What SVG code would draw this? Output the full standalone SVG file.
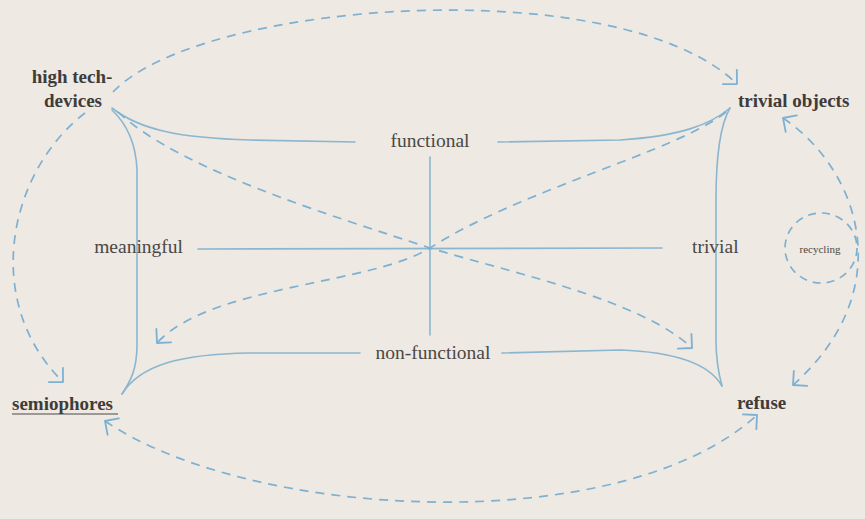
<svg xmlns="http://www.w3.org/2000/svg" width="865" height="519" viewBox="0 0 865 519">
<style>
.bg{fill:#eee9e2}
.lbl{font-family:"Liberation Serif","Times New Roman",serif;fill:#4a4845}
.node{font-size:19px;font-weight:bold;fill:#3e3c3a}
.axis{font-size:19.5px}
.solid{fill:none;stroke:#8ab6d0;stroke-width:1.6;stroke-linecap:round}
.dash{fill:none;stroke:#7eb0d2;stroke-width:1.7;stroke-dasharray:9 7}
</style>
<defs>
<marker id="ah" markerUnits="userSpaceOnUse" markerWidth="30" markerHeight="30" viewBox="-15 -15 30 30" refX="0" refY="0" orient="auto-start-reverse">
<path d="M-10,-10 L0,0 L-10,10" fill="none" stroke="#7eb0d2" stroke-width="1.8" stroke-linecap="round" stroke-linejoin="round"/>
</marker>
</defs>
<rect class="bg" x="0" y="0" width="865" height="519"/>
<g id="connectors">
<path class="solid" d="M112,108 C140,130 180,138 250,140 L355,142"/>
<path class="solid" d="M498,142 L620,140 C680,136 710,125 730,108"/>
<path class="solid" d="M112,110 C128,125 136,145 137,170 L137,345 C137,370 130,382 122,394"/>
<path class="solid" d="M122,394 C140,365 180,354 250,353 L360,353"/>
<path class="solid" d="M502,353 L620,350 C680,352 710,365 722,386"/>
<path class="solid" d="M730,108 C720,125 716,160 716,200 L716,340 C716,360 719,375 722,386"/>
<path class="solid" d="M198,249 L662,248"/>
<path class="solid" d="M430,157 L430,335"/>
<path class="dash" d="M118,112 C180,170 330,215 430,248 C520,275 640,300 692,348" marker-end="url(#ah)"/>
<path class="dash" d="M726,112 C680,150 520,190 430,248 C370,285 210,285 157,343" marker-end="url(#ah)"/>
<path class="dash" d="M113,92 C200,0 620,-30 737,84" marker-end="url(#ah)"/>
<path class="dash" d="M85,113 C10,170 -20,300 63,382" marker-end="url(#ah)"/>
<path class="dash" d="M105,421 C250,520 620,540 757,415" marker-start="url(#ah)" marker-end="url(#ah)"/>
<path class="dash" d="M783,118 C860,170 900,290 793,385" marker-start="url(#ah)" marker-end="url(#ah)"/>
</g>
<g id="high-tech-devices">
<text class="lbl node" x="72" y="83" text-anchor="middle">high tech-</text>
<text class="lbl node" x="73" y="107" text-anchor="middle">devices</text>
</g>
<g id="trivial-objects">
<text class="lbl node" x="738" y="107">trivial objects</text>
</g>
<g id="semiophores">
<text class="lbl node" x="12" y="410">semiophores</text>
<line x1="12" y1="414" x2="118" y2="414" stroke="#4a4845" stroke-width="1"/>
</g>
<g id="refuse">
<text class="lbl node" x="737" y="409">refuse</text>
</g>
<g id="functional">
<text class="lbl axis" x="430" y="147" text-anchor="middle">functional</text>
</g>
<g id="non-functional">
<text class="lbl axis" x="433" y="359" text-anchor="middle">non-functional</text>
</g>
<g id="meaningful">
<text class="lbl axis" x="183" y="253" text-anchor="end">meaningful</text>
</g>
<g id="trivial">
<text class="lbl axis" x="692" y="253">trivial</text>
</g>
<g id="recycling">
<ellipse class="dash" cx="821" cy="248" rx="36" ry="35" style="stroke-dasharray:8 6"/>
<text class="lbl" x="820" y="253" text-anchor="middle" font-size="11">recycling</text>
</g>
</svg>
